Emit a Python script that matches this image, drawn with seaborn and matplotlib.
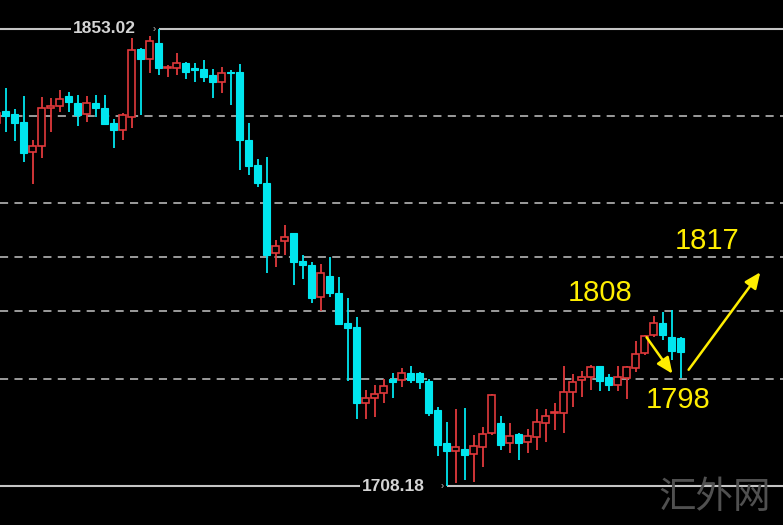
import numpy as np
import pandas as pd
import matplotlib
matplotlib.use("Agg")
import matplotlib.pyplot as plt
import seaborn as sns

# candle data (bar index, open, high, low, close)
bar = list(range(-1, 76))
opens = [1823.23, 1827.03, 1826.08, 1823.54, 1814.04, 1815.94, 1827.98, 1828.62, 1831.79, 1829.57,
         1826.08, 1829.57, 1827.98, 1823.23, 1821.01, 1825.13, 1846.68, 1843.51, 1848.58, 1840.66,
         1840.66, 1842.24, 1840.66, 1840.34, 1838.44, 1836.22, 1839.39, 1839.39, 1817.84, 1809.92,
         1804.21, 1782.03, 1785.83, 1788.36, 1779.49, 1778.22, 1768.08, 1774.74, 1769.35, 1759.84,
         1758.57, 1734.48, 1736.07, 1737.65, 1742.09, 1741.77, 1743.99, 1743.99, 1741.46, 1732.27,
         1721.81, 1719.27, 1719.91, 1718.32, 1720.54, 1724.98, 1728.15, 1721.81, 1724.66, 1722.12,
         1723.71, 1728.15, 1731.32, 1731.32, 1737.97, 1741.77, 1742.72, 1746.21, 1742.72, 1740.19,
         1742.41, 1745.58, 1750.33, 1756.04, 1759.84, 1755.40, 1755.09]
highs = [1827.98, 1834.32, 1827.66, 1831.79, 1817.84, 1831.47, 1831.15, 1833.69, 1833.05, 1832.10,
         1831.79, 1832.10, 1832.10, 1824.50, 1826.40, 1851.12, 1847.00, 1850.80, 1853.02, 1841.61,
         1845.41, 1842.56, 1842.24, 1843.20, 1840.34, 1840.98, 1840.03, 1841.93, 1823.23, 1811.82,
         1812.45, 1786.15, 1790.90, 1788.36, 1781.39, 1779.17, 1778.54, 1780.76, 1774.42, 1767.76,
         1761.74, 1738.60, 1740.19, 1742.09, 1743.99, 1745.58, 1746.21, 1744.31, 1742.09, 1733.22,
         1728.46, 1732.58, 1732.90, 1724.34, 1726.88, 1737.34, 1730.36, 1728.15, 1724.98, 1726.24,
         1732.58, 1732.58, 1734.48, 1746.21, 1743.68, 1744.63, 1746.53, 1746.21, 1743.68, 1746.21,
         1746.21, 1754.13, 1756.04, 1762.06, 1763.33, 1763.96, 1755.40]
lows = [1821.64, 1820.38, 1817.52, 1810.87, 1803.89, 1812.13, 1820.38, 1826.71, 1826.71, 1822.28,
        1823.54, 1825.13, 1822.59, 1815.30, 1817.84, 1821.64, 1825.76, 1839.07, 1838.44, 1837.81,
        1838.44, 1837.17, 1836.22, 1836.22, 1831.15, 1832.74, 1828.93, 1808.33, 1806.75, 1802.94,
        1775.69, 1777.59, 1781.39, 1771.88, 1773.79, 1766.18, 1763.64, 1768.08, 1759.21, 1741.46,
        1729.41, 1729.41, 1730.05, 1734.48, 1736.07, 1739.56, 1740.82, 1738.92, 1730.36, 1717.69,
        1708.18, 1709.13, 1710.08, 1709.45, 1714.20, 1724.34, 1719.59, 1718.64, 1716.42, 1718.64,
        1719.59, 1722.12, 1725.93, 1724.98, 1733.22, 1736.39, 1738.60, 1738.29, 1738.29, 1738.29,
        1735.75, 1744.31, 1749.70, 1755.40, 1754.45, 1748.11, 1742.41]
closes = [1826.40, 1825.45, 1823.23, 1813.72, 1815.94, 1827.98, 1828.62, 1830.83, 1829.88, 1825.76,
          1829.57, 1827.98, 1822.91, 1821.01, 1825.76, 1846.36, 1843.51, 1849.22, 1840.66, 1840.98,
          1842.24, 1839.39, 1840.03, 1837.81, 1836.22, 1839.07, 1839.07, 1817.84, 1809.60, 1804.21,
          1781.39, 1784.24, 1787.10, 1779.17, 1778.22, 1767.76, 1775.69, 1769.35, 1759.52, 1758.26,
          1734.48, 1736.07, 1737.34, 1739.87, 1741.14, 1743.99, 1741.77, 1741.14, 1731.32, 1721.17,
          1719.27, 1720.54, 1718.00, 1720.86, 1724.66, 1737.02, 1721.17, 1724.03, 1721.81, 1724.03,
          1728.46, 1730.36, 1731.63, 1737.97, 1741.14, 1742.72, 1745.89, 1741.46, 1740.19, 1742.72,
          1745.89, 1750.01, 1755.72, 1759.84, 1756.04, 1750.97, 1750.65]

# horizontal levels
grid_levels = [1825.60, 1798.03, 1780.66, 1763.55, 1742.25]
high_label = "1853.02"
low_label = "1708.18"
high_price = 1853.02
low_price = 1708.18

# analyst notes
note_texts = ["1817", "1808", "1798"]

df = pd.DataFrame({"bar": bar, "open": opens, "high": highs, "low": lows, "close": closes})
df["up"] = df["close"] >= df["open"]

sns.set_theme(style="dark", rc={"axes.facecolor": "black", "figure.facecolor": "black"})
plt.rcParams["font.family"] = ["Liberation Sans", "DejaVu Sans"]

RED = "#e0393b"
CYAN = "#00e6ef"

fig = plt.figure(figsize=(7.83, 5.25), dpi=100)
ax = fig.add_axes([0, 0, 1, 1])
ax.set_facecolor("black")
ax.set_xlim(-0.633, 86.37)
ax.set_ylim(1695.82, 1862.21)
ax.axis("off")

# dashed levels
for lv in grid_levels:
    ax.axhline(lv, color="#a8a8a8", lw=1.3, ls=(0, (4.5, 3.5)), zorder=1)

# high / low lines, broken around the labels
hi_bar = df.loc[df["high"].idxmax(), "bar"]
lo_bar = df.loc[df["low"].idxmin(), "bar"]
for price, lab, cx, b in [(high_price, high_label, 11.0, hi_bar), (low_price, low_label, 43.1, lo_bar)]:
    ax.hlines(price, -1, cx, color="#c4c4c4", lw=1.5, zorder=1)
    ax.hlines(price, b, 90, color="#c4c4c4", lw=1.5, zorder=1)
    ax.text(cx, price, lab, color="#d4d4d4", fontsize=12.5, fontweight="bold",
            ha="center", va="center", zorder=5,
            bbox=dict(boxstyle="square,pad=0.1", fc="black", ec="none"))
    ax.text(b - 0.3, price, "›", color="#c4c4c4", fontsize=7, ha="right", va="center", zorder=5)

# candles
colors = np.where(df["up"], RED, CYAN)
ax.vlines(df["bar"], df["low"], df["high"], colors=colors, lw=1.3, zorder=3)
up = df[df["up"]]
dn = df[~df["up"]]
ax.bar(up["bar"], (up["close"] - up["open"]).clip(lower=0.15), bottom=up["open"], width=0.76,
       facecolor="black", edgecolor=RED, linewidth=1.2, zorder=4)
ax.bar(dn["bar"], (dn["open"] - dn["close"]).clip(lower=0.15), bottom=dn["close"], width=0.78,
       facecolor=CYAN, edgecolor=CYAN, linewidth=0.8, zorder=4)

# annotations
YEL = "#ffee00"
ax.text(77.92, 1785.83, note_texts[0], color=YEL, fontsize=21, ha="center", va="center", zorder=6)
ax.text(66.03, 1769.35, note_texts[1], color=YEL, fontsize=21, ha="center", va="center", zorder=6)
ax.text(74.7, 1735.43, note_texts[2], color=YEL, fontsize=21, ha="center", va="center", zorder=6)
ax.annotate("", xy=(74.26, 1743.04), xytext=(71.03, 1756.04),
            arrowprops=dict(arrowstyle="-|>,head_length=0.8,head_width=0.35", color=YEL, lw=1.8),
            zorder=6)
ax.annotate("", xy=(84.03, 1776.64), xytext=(75.7, 1744.31),
            arrowprops=dict(arrowstyle="-|>,head_length=0.8,head_width=0.35", color=YEL, lw=1.8),
            zorder=6)

# watermark
fig.text(0.913, 0.053, "汇外网", color="#505050", fontsize=27, ha="center", va="center",
         family=["Noto Sans CJK SC", "DejaVu Sans"], zorder=7)

fig.savefig("out.png", dpi=100, facecolor="black")
